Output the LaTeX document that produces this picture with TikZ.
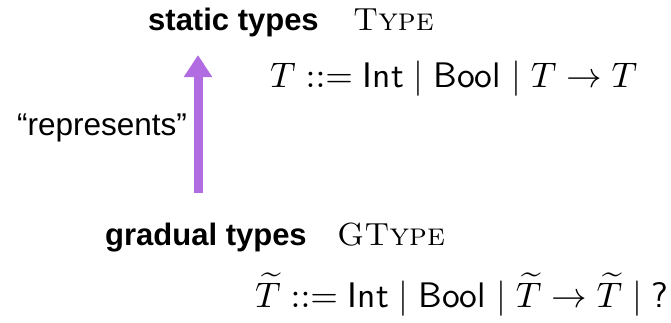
\documentclass[tikz,border=0pt]{standalone}
\usepackage{fontspec}
\usepackage{amsmath}
\usepackage{graphicx}
\newfontfamily\headfont{Liberation Sans}
\usetikzlibrary{arrows.meta}
\definecolor{arrowpurple}{RGB}{178,108,226}
\tikzset{
  heading/.style={anchor=base west, inner sep=0pt, font=\headfont\bfseries\fontsize{31}{36}\selectfont},
  setname/.style={anchor=base west, inner sep=0pt, font=\fontsize{32}{37}\selectfont},
  grammar/.style={anchor=base west, inner sep=0pt},
  note/.style={anchor=base west, inner sep=0pt, font=\headfont\fontsize{31.5}{36}\selectfont},
  reparrow/.style={draw=arrowpurple, line width=9pt, -{Triangle[width=27pt,length=22pt]}}
}
\newcommand{\bigmath}[1]{\scalebox{3.55}{$#1$}}
\begin{document}
\begin{tikzpicture}[x=1pt,y=1pt]
\useasboundingbox (0,0) rectangle (671,322);
\node[heading] (static) at (148,291) {static types};
\node[setname] (type) at (353,291) {\textsc{Type}};
\node[grammar] (f1) at (270,235) {\bigmath{T ::= \mathsf{Int} \mid \mathsf{Bool} \mid T \to T}};
\node[note] (rep) at (17,187) {“represents”};
\node[heading] (gradual) at (105,77) {gradual types};
\node[setname] (gtype) at (337,77) {\textsc{GType}};
\node[grammar] (f2) at (255,15) {\bigmath{\widetilde{T} ::= \mathsf{Int} \mid \mathsf{Bool} \mid \widetilde{T} \to \widetilde{T} \mid \mbox{\sffamily ?}}};
\coordinate (abot) at (198,129);
\coordinate (atop) at (198,267);
\draw[reparrow] (abot) -- (atop);
\end{tikzpicture}
\end{document}
